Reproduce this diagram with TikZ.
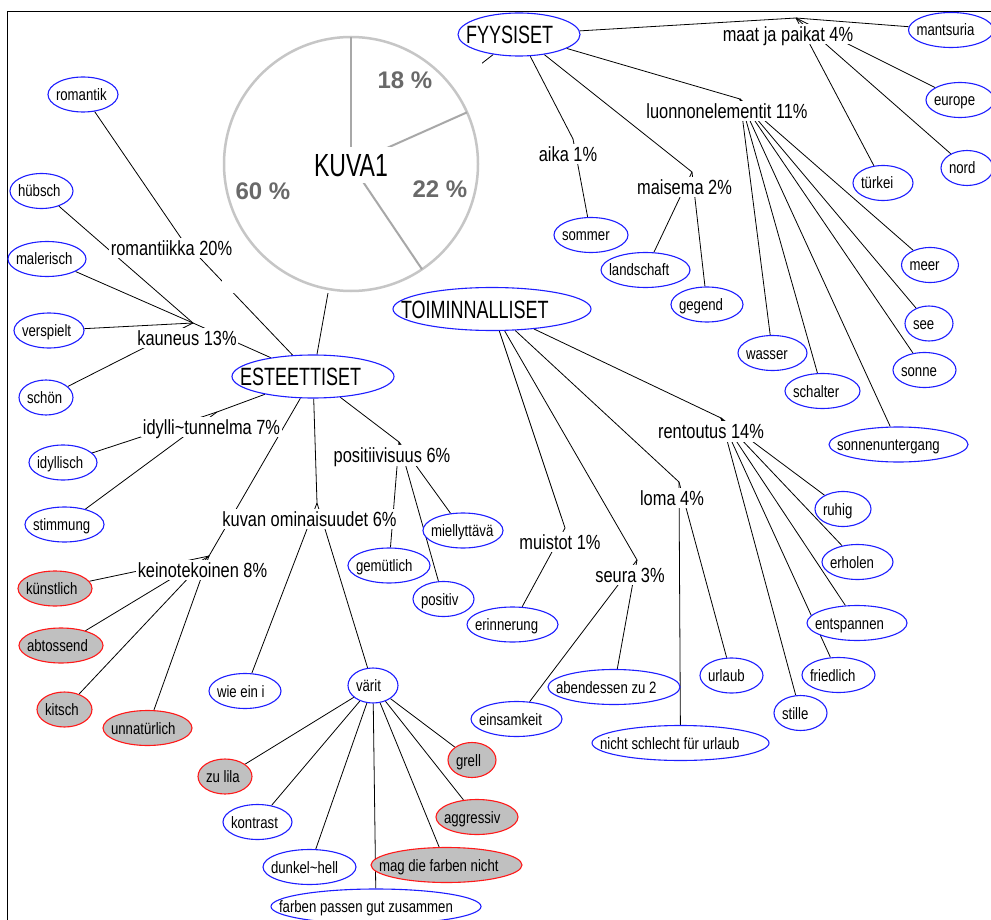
\documentclass[tikz,border=0pt]{standalone}
\usepackage{fontspec}
\setmainfont{Liberation Sans}[FakeStretch=0.8]
\newfontfamily\bigfont{Liberation Sans}[FakeStretch=0.72]
\newfontfamily\piefont{Liberation Sans}
\usepackage{tikz}
\usetikzlibrary{shapes.geometric}
\definecolor{leafblue}{RGB}{30,30,255}
\definecolor{badred}{RGB}{255,25,25}
\definecolor{badgray}{RGB}{192,192,192}
\definecolor{piegray}{RGB}{198,198,198}
\definecolor{pietext}{RGB}{105,105,105}
\pgfdeclarelayer{bg}
\pgfsetlayers{bg,main}

\tikzset{
  link/.style={line width=0.8pt},
  leaf/.style={ellipse, draw=leafblue, fill=white, line width=1.1pt, inner sep=0pt,
    minimum width=#1, minimum height=35pt, text height=15pt, text depth=3pt,
    font=\fontsize{16.5}{18}\selectfont,
    execute at begin node={\hbox to 0pt\bgroup\hskip\dimexpr 8pt-#1pt/2\relax},
    execute at end node={\hss\egroup}},
  bad/.style={leaf=#1, draw=badred, fill=badgray},
  groupbox/.style={leaf=#1, minimum height=43pt, text height=20pt, text depth=2pt,
    font=\bigfont\fontsize{25}{28}\selectfont},
  cat/.style={fill=white, inner sep=1.5pt, text height=16pt, text depth=1.5pt,
    font=\fontsize{20.5}{22}\selectfont},
  pct/.style={text=pietext, font=\piefont\bfseries\fontsize{24}{26}\selectfont},
  pieline/.style={piegray!85!black, line width=2pt}
}

\begin{document}
\begin{tikzpicture}[x=1pt, y=-1pt]
    \useasboundingbox (0,0) rectangle (991,920);
    \draw[line width=0.8pt] (7,920) -- (7,11) -- (991,11);

    % pie chart picture
    \fill[white] (222,35) rectangle (482,293);
    \draw[piegray, line width=2.5pt] (351,164) circle (127pt);
    \foreach \a in {90,24,-56} {
        \draw[pieline] (351,164) -- +(\a:127pt);
    }
    \node[pct] (p18) at (405,80) {18 \%};
    \node[pct] (p60) at (263,191) {60 \%};
    \node[pct] (p22) at (440,189) {22 \%};
    \node[fill=white, inner sep=0pt, minimum width=82pt, minimum height=36pt,
      text height=23pt, text depth=0pt, font=\bigfont\fontsize{32}{34}\selectfont]
      (kuva) at (351,165) {KUVA1};

    % main groups
    \node[groupbox=162] (este) at (313,376.5) {ESTEETTISET};
    \node[groupbox=122] (fyys) at (519,34.5) {FYYSISET};
    \node[groupbox=198] (toim) at (492,309) {TOIMINNALLISET};

    % categories (branch point + label)
    \foreach \n/\px/\py/\x/\y/\t in {
        rom/181/238/171.5/248/romantiikka 20\%,
        kaun/193/323/187/338/kauneus 13\%,
        idyl/217/412/211.5/427/idylli\textasciitilde tunnelma 7\%,
        kein/209/556/202.5/570/keinotekoinen 8\%,
        kuvan/317/503/309.5/519/kuvan ominaisuudet 6\%,
        posi/399/442/392/455.5/positiivisuus 6\%,
        maat/796/18/788/34/maat ja paikat 4\%,
        luon/740/99/727/111/luonnonelementit 11\%,
        aika/573/139/568/154/aika 1\%,
        mais/692/172/684.5/187/maisema 2\%,
        rent/721/418/711/431.5/rentoutus 14\%,
        loma/679/482/672/498/loma 4\%,
        muis/565/528/560/542/muistot 1\%,
        seura/637/560/630/575/seura 3\%} {
        \coordinate (\n) at (\px,\py);
        \node[cat] (\n-lbl) at (\x,\y) {\t};
    }

    % answers
    \foreach \n/\x/\y/\w/\t in {
        romantik/83/94.5/70/romantik, huebsch/41.5/191/63/hübsch,
        malerisch/47/259/78/malerisch, verspielt/49/330.5/70/verspielt,
        schoen/46/397.5/54/schön, idyllisch/63/462.5/68/idyllisch,
        stimmung/64.5/524.5/79/stimmung, wieeini/245/691/72/wie ein i,
        vaerit/373/685.5/50/värit, kontrast/257.5/822/69/kontrast,
        dunkel/309.5/867/93/dunkel\textasciitilde hell,
        farben/376/906.5/210/farben passen gut zusammen,
        gemuetlich/389/565.5/82/gemütlich, positiv/443.5/599/61/positiv,
        miell/463/530.5/80/miellyttävä, sommer/591/235/74/sommer,
        landschaft/645.5/270/89/landschaft, gegend/707/304.5/72/gegend,
        mantsuria/951/30/85/mantsuria, europe/960/100/68/europe,
        nord/967/168/52/nord, tuerkei/883/183/60/türkei,
        meer/930/265/57/meer, see/929/323.5/48/see,
        sonne/924.5/370/63/sonne, wasser/772.5/353/69/wasser,
        schalter/822.5/391/75/schalter,
        sonnenu/898.5/444.5/139/sonnenuntergang,
        ruhig/843/509/56/ruhig, erholen/857.5/562/71/erholen,
        entspannen/857/623/100/entspannen, friedlich/838.5/675/73/friedlich,
        stille/800.5/713/53/stille, urlaub/731.5/675.5/63/urlaub,
        nicht/680.5/743/177/nicht schlecht für urlaub,
        abend/614/687/132/abendessen zu 2,
        einsam/516.5/719/91/einsamkeit, erinnerung/512.5/624.5/91/erinnerung} {
        \node[leaf=\w] (\n) at (\x,\y) {\t};
    }
    \foreach \n/\x/\y/\w/\t in {
        kuenstlich/55/588.5/74/künstlich, abtossend/61/645.5/84/abtossend,
        kitsch/64.5/709.5/55/kitsch, unnat/147.5/728/89/unnatürlich,
        zulila/225/776.5/54/zu lila, magnicht/446.5/865/151/mag die farben nicht,
        aggressiv/477/817/82/aggressiv, grell/472/760/48/grell} {
        \node[bad=\w] (\n) at (\x,\y) {\t};
    }

    % connectors
    \begin{pgfonlayer}{bg}
    \foreach \a/\b in {kuva/este, kuva/fyys, kuva/toim,
        este/rom, este/kaun, este/idyl, este/kein, este/kuvan, este/posi,
        rom/romantik, kaun/huebsch, kaun/malerisch, kaun/verspielt, kaun/schoen,
        idyl/idyllisch, idyl/stimmung,
        kein/kuenstlich, kein/abtossend, kein/kitsch, kein/unnat,
        kuvan/wieeini, kuvan/vaerit,
        vaerit/zulila, vaerit/kontrast, vaerit/dunkel, vaerit/farben,
        vaerit/magnicht, vaerit/aggressiv, vaerit/grell,
        posi/gemuetlich, posi/positiv, posi/miell,
        fyys/maat, fyys/luon, fyys/aika, fyys/mais,
        maat/mantsuria, maat/europe, maat/nord, maat/tuerkei,
        luon/meer, luon/see, luon/sonne, luon/sonnenu, luon/schalter, luon/wasser,
        aika/sommer, mais/landschaft, mais/gegend,
        toim/muis, toim/seura, toim/loma, toim/rent,
        muis/erinnerung, seura/einsam, seura/abend,
        loma/urlaub, loma/nicht,
        rent/ruhig, rent/erholen, rent/entspannen, rent/friedlich, rent/stille} {
        \draw[link] (\a) -- (\b);
    }
    \end{pgfonlayer}
\end{tikzpicture}
\end{document}
